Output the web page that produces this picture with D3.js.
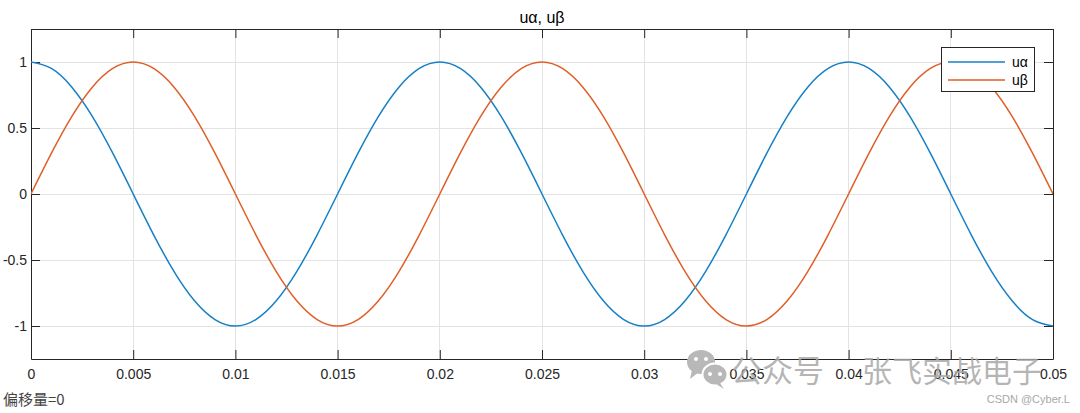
<!DOCTYPE html>
<html><head><meta charset="utf-8">
<script src="https://cdn.jsdelivr.net/npm/d3@7"></script>
<style>body{margin:0;background:#fff;}svg{display:block;}</style>
</head><body>
<script>
const title = "uα, uβ";
const seriesNames = ["uα", "uβ"];
const seriesColors = ["#1680C6", "#E05F28"];
const t = [0,0.001,0.002,0.003,0.004,0.005,0.006,0.007,0.008,0.009,0.010,0.011,0.012,0.013,0.014,0.015,0.016,0.017,0.018,0.019,0.020,0.021,0.022,0.023,0.024,0.025,0.026,0.027,0.028,0.029,0.030,0.031,0.032,0.033,0.034,0.035,0.036,0.037,0.038,0.039,0.040,0.041,0.042,0.043,0.044,0.045,0.046,0.047,0.048,0.049,0.050];
const uAlpha = [1,0.951,0.809,0.588,0.309,0,-0.309,-0.588,-0.809,-0.951,-1,-0.951,-0.809,-0.588,-0.309,0,0.309,0.588,0.809,0.951,1,0.951,0.809,0.588,0.309,0,-0.309,-0.588,-0.809,-0.951,-1,-0.951,-0.809,-0.588,-0.309,0,0.309,0.588,0.809,0.951,1,0.951,0.809,0.588,0.309,0,-0.309,-0.588,-0.809,-0.951,-1];
const uBeta = [0,0.309,0.588,0.809,0.951,1,0.951,0.809,0.588,0.309,0,-0.309,-0.588,-0.809,-0.951,-1,-0.951,-0.809,-0.588,-0.309,0,0.309,0.588,0.809,0.951,1,0.951,0.809,0.588,0.309,0,-0.309,-0.588,-0.809,-0.951,-1,-0.951,-0.809,-0.588,-0.309,0,0.309,0.588,0.809,0.951,1,0.951,0.809,0.588,0.309,0];
const xTicks = [0,0.005,0.01,0.015,0.02,0.025,0.03,0.035,0.04,0.045,0.05];
const xTickLabels = ["0","0.005","0.01","0.015","0.02","0.025","0.03","0.035","0.04","0.045","0.05"];
const yTicks = [-1,-0.5,0,0.5,1];
const yTickLabels = ["-1","-0.5","0","0.5","1"];
const footNote = "偏移量=0";
const wmLeft = "公众号";
const wmRight = "张飞实战电子";
const credit = "CSDN @Cyber.L";

const W = 1080, H = 413;
const m = {left: 31, right: 1053, top: 29, bottom: 359};
const svg = d3.select("body").append("svg").attr("width", W).attr("height", H);
const font = "'Liberation Sans', Arial, Helvetica, sans-serif";
const cjk = "'Noto Sans CJK SC', sans-serif";

const x = d3.scaleLinear().domain([0, 0.05]).range([m.left, m.right]);
const y = d3.scaleLinear().domain([-1.25, 1.25]).range([m.bottom, m.top]);

// grid
const g = svg.append("g");
g.selectAll(".gx").data(xTicks).join("line")
  .attr("x1", d => x(d)).attr("x2", d => x(d)).attr("y1", m.top).attr("y2", m.bottom)
  .attr("stroke", "#e3e3e3").attr("stroke-width", 1).attr("shape-rendering", "crispEdges");
g.selectAll(".gy").data(yTicks).join("line")
  .attr("y1", d => y(d)).attr("y2", d => y(d)).attr("x1", m.left).attr("x2", m.right)
  .attr("stroke", "#e3e3e3").attr("stroke-width", 1).attr("shape-rendering", "crispEdges");

// axes
const tl = 9;
const axB = svg.append("g").attr("transform", `translate(0,${m.bottom})`)
  .call(d3.axisBottom(x).tickValues(xTicks).tickFormat((d,i) => xTickLabels[i]).tickSizeInner(-tl).tickSizeOuter(0).tickPadding(10));
const axT = svg.append("g").attr("transform", `translate(0,${m.top})`)
  .call(d3.axisTop(x).tickValues(xTicks).tickFormat("").tickSizeInner(-tl).tickSizeOuter(0));
const axL = svg.append("g").attr("transform", `translate(${m.left},0)`)
  .call(d3.axisLeft(y).tickValues(yTicks).tickFormat((d,i) => yTickLabels[i]).tickSizeInner(-tl).tickSizeOuter(0).tickPadding(4));
const axR = svg.append("g").attr("transform", `translate(${m.right},0)`)
  .call(d3.axisRight(y).tickValues(yTicks).tickFormat("").tickSizeInner(-tl).tickSizeOuter(0));
[axB, axT, axL, axR].forEach(a => {
  a.select(".domain").attr("stroke", "#262626");
  a.selectAll(".tick line").attr("stroke", "#262626");
  a.selectAll("text").attr("font-family", font).attr("font-size", 14).attr("fill", "#262626");
});

// clip
svg.append("clipPath").attr("id", "clip").append("rect")
  .attr("x", m.left).attr("y", m.top).attr("width", m.right - m.left).attr("height", m.bottom - m.top);

const line = d3.line().x((d,i) => x(t[i])).y(d => y(d)).curve(d3.curveNatural);
[uAlpha, uBeta].forEach((s, k) => {
  svg.append("path").attr("d", line(s)).attr("fill", "none")
    .attr("stroke", seriesColors[k]).attr("stroke-width", 1.5).attr("clip-path", "url(#clip)");
});

// legend
const lg = svg.append("g");
lg.append("rect").attr("x", 941.5).attr("y", 47.5).attr("width", 93).attr("height", 44)
  .attr("fill", "#fff").attr("stroke", "#262626").attr("stroke-width", 1);
seriesNames.forEach((n, i) => {
  const yy = 62 + i * 18;
  lg.append("line").attr("x1", 948).attr("x2", 1005).attr("y1", yy).attr("y2", yy)
    .attr("stroke", seriesColors[i]).attr("stroke-width", 1.5);
  lg.append("text").attr("x", 1012).attr("y", yy + 5).text(n)
    .attr("font-family", font).attr("font-size", 14).attr("fill", "#000");
});

// title
svg.append("text").attr("x", (m.left + m.right) / 2).attr("y", 23).attr("text-anchor", "middle")
  .attr("font-family", font).attr("font-size", 16).attr("fill", "#000").text(title);

// footnote
svg.append("text").attr("x", 3).attr("y", 405).attr("font-family", cjk)
  .attr("font-size", 15).attr("fill", "#444").text(footNote);

// watermark
const wm = svg.append("g");
const wc = "#b8b8b8";
wm.append("ellipse").attr("cx", 701).attr("cy", 362).attr("rx", 14).attr("ry", 12).attr("fill", wc);
wm.append("path").attr("d", "M692,370 L690,379 L699,372 Z").attr("fill", wc);
wm.append("ellipse").attr("cx", 715).attr("cy", 374.5).attr("rx", 12.5).attr("ry", 11).attr("fill", wc).attr("stroke", "#fff").attr("stroke-width", 2);
wm.append("path").attr("d", "M720,383 L724,389 L716,384 Z").attr("fill", wc);
[[696,359],[706,359]].forEach(p => wm.append("circle").attr("cx", p[0]).attr("cy", p[1]).attr("r", 2).attr("fill", "#fff"));
[[710,374],[720,374]].forEach(p => wm.append("circle").attr("cx", p[0]).attr("cy", p[1]).attr("r", 2).attr("fill", "#fff"));
wm.append("text").attr("x", 731).attr("y", 382).attr("font-family", cjk)
  .attr("font-size", 31).attr("fill", "#a8a8a8").attr("fill-opacity", 0.85).text(wmLeft);
wm.append("text").attr("x", 862).attr("y", 382).attr("font-family", cjk)
  .attr("font-size", 30).attr("fill", "#a8a8a8").attr("fill-opacity", 0.85).text(wmRight);

svg.append("text").attr("x", 1070).attr("y", 403).attr("text-anchor", "end")
  .attr("font-family", font).attr("font-size", 11).attr("fill", "#a8a8a8").text(credit);
</script>
</body></html>
